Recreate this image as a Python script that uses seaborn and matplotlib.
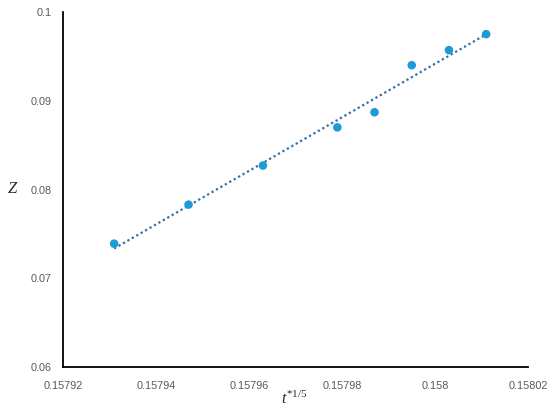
import numpy as np
import pandas as pd
import matplotlib
matplotlib.use("Agg")
import matplotlib.pyplot as plt
import seaborn as sns

t_vals = [0.157931, 0.157947, 0.157963, 0.157979, 0.157987, 0.157995, 0.158003, 0.158011]
z_vals = [0.0739, 0.0783, 0.0827, 0.0870, 0.0887, 0.0940, 0.0957, 0.0975]
x_ticks = [0.15792, 0.15794, 0.15796, 0.15798, 0.158, 0.15802]
x_tick_labels = ["0.15792", "0.15794", "0.15796", "0.15798", "0.158", "0.15802"]
y_ticks = [0.06, 0.07, 0.08, 0.09, 0.1]
y_tick_labels = ["0.06", "0.07", "0.08", "0.09", "0.1"]

df = pd.DataFrame({"t": t_vals, "Z": z_vals})

sns.set_style("white")
plt.rcParams["font.family"] = ["Liberation Sans", "DejaVu Sans"]
plt.rcParams["mathtext.fontset"] = "custom"
plt.rcParams["mathtext.rm"] = "Liberation Serif"
plt.rcParams["mathtext.it"] = "Liberation Serif:italic"

fig = plt.figure(figsize=(5.5, 4.12), dpi=100)
ax = fig.add_axes([0.1145, 0.109, 0.8455, 0.862])

sns.regplot(data=df, x="t", y="Z", scatter=False, ci=None, truncate=True, ax=ax,
            line_kws=dict(color="#2E6FA8", lw=1.6, ls=(0, (1, 1.3))))
sns.scatterplot(data=df, x="t", y="Z", ax=ax, s=38, color="#1E9AD6",
                edgecolor="none", zorder=3)

ax.set_xlim(0.15792, 0.15802)
ax.set_ylim(0.06, 0.1)
ax.set_xticks(x_ticks)
ax.set_xticklabels(x_tick_labels)
ax.set_yticks(y_ticks)
ax.set_yticklabels(y_tick_labels)
ax.tick_params(axis="both", length=0, labelsize=7.8, colors="#595959")
ax.tick_params(axis="x", pad=10)
ax.tick_params(axis="y", pad=8)

for s in ["top", "right"]:
    ax.spines[s].set_visible(False)
for s in ["left", "bottom"]:
    ax.spines[s].set_color("black")
    ax.spines[s].set_linewidth(1.3)

ax.set_xlabel("")
ax.set_ylabel("")
fig.text(0.536, 0.012, r"$\mathit{t}^{\mathrm{*1/5}}$", fontsize=11.5, ha="center", va="bottom")
fig.text(0.022, 0.542, "Z", fontsize=12, family="Liberation Serif", style="italic",
         ha="center", va="center")

fig.savefig("out.png", dpi=100)
